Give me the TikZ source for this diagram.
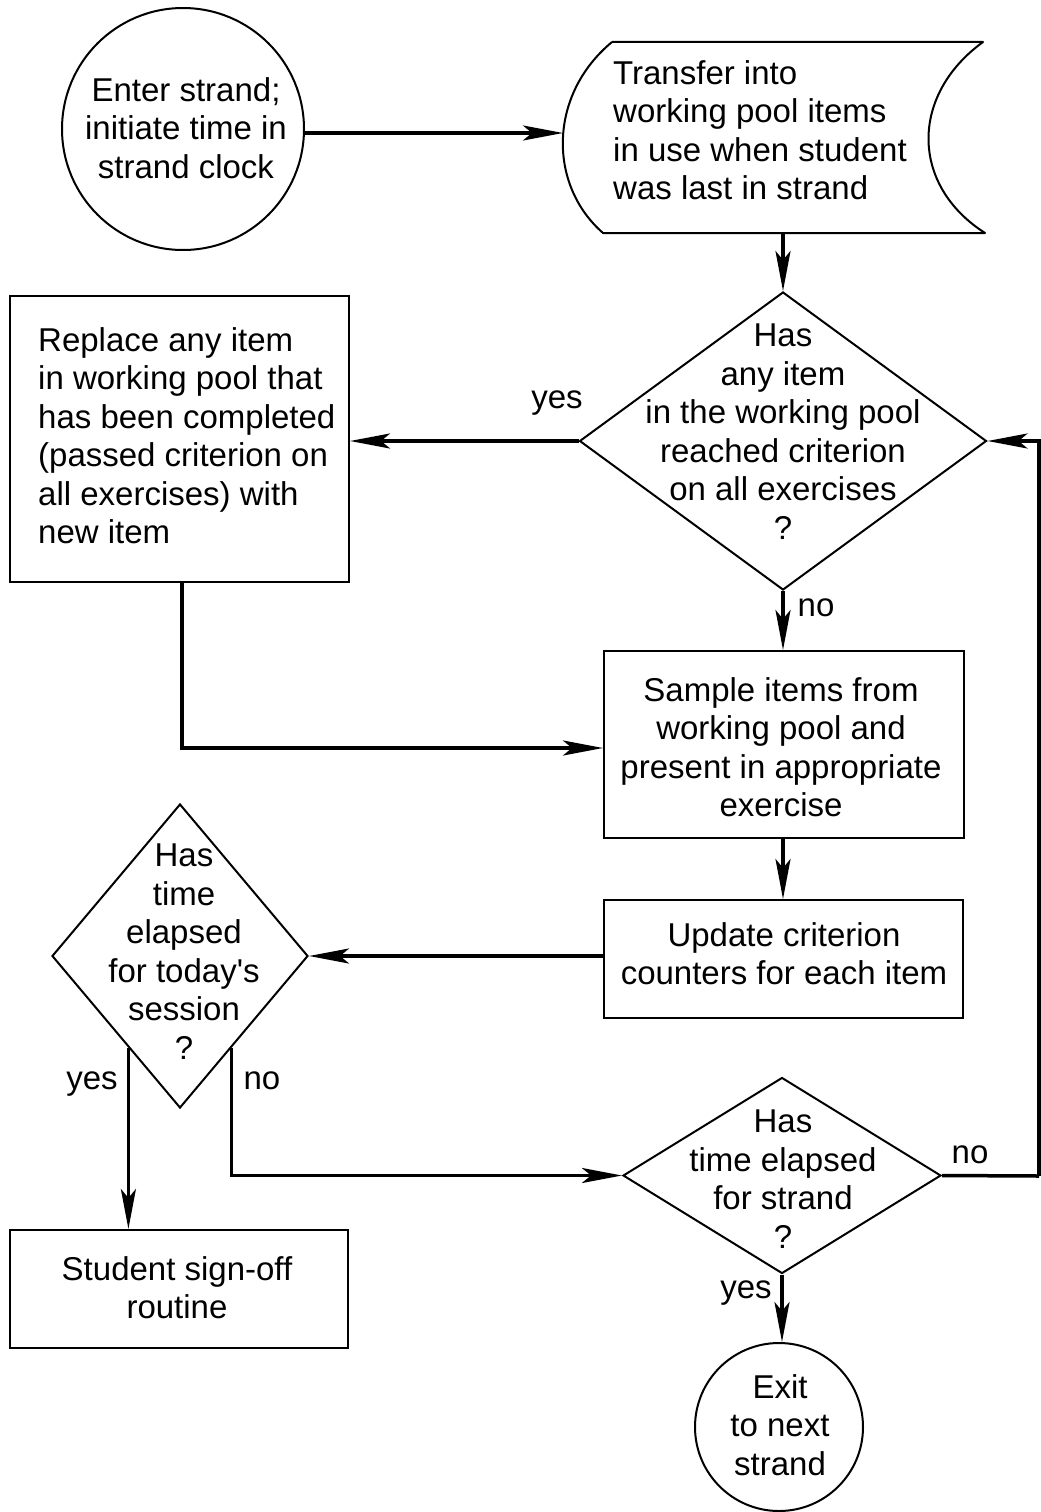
\documentclass[tikz,border=0pt]{standalone}
\usepackage{fontspec}
\setmainfont{Liberation Sans}
\usetikzlibrary{shapes.geometric,arrows.meta,calc}
\begin{document}
\begin{tikzpicture}[x=1pt,y=-1pt,
  shapeline/.style={draw=black,line width=2pt},
  txt/.style={inner sep=0pt,font=\fontsize{33}{38.5}\selectfont},
  lbl/.style={inner sep=0pt,anchor=base,font=\fontsize{33}{38.5}\selectfont},
  arr/.style={line width=3.5pt,-{Stealth[length=40pt,width=15pt,inset=9pt]}},
  conn/.style={line width=3.5pt},
  boxnode/.style={shapeline,rectangle,inner sep=0pt},
  dnode/.style={shapeline,diamond,inner sep=0pt},
  cnode/.style={shapeline,circle,inner sep=0pt}]
\useasboundingbox[fill=white] (0,0) rectangle (1041,1512);

% start circle
\node[cnode,minimum size=242pt] (start) at (183,129) {};
\node[txt,align=center,anchor=north] (starttxt) at (186,77) {Enter strand;\\initiate time in\\strand clock};

% stored data shape
\coordinate (sdL) at (563,133);
\coordinate (sdB) at (783,233);
\draw[shapeline,line join=round] (612,42) -- (983,42) .. controls (910,95) and (910,185) .. (985,233)
  -- (603,233) .. controls (548,185) and (548,95) .. (612,42);
\node[txt,align=left,anchor=north west] (sdtxt) at (613,60) {Transfer into\\working pool items\\in use when student\\was last in strand};

% decision 1
\node[dnode,minimum width=407pt,minimum height=298pt] (d1) at (783,441) {};
\node[txt,align=center,anchor=north] (d1txt) at (783,324) {Has\\any item\\in the working pool\\reached criterion\\on all exercises\\?};

% replace box
\node[boxnode,minimum width=339pt,minimum height=286pt] (replace) at (179.5,439) {};
\node[txt,align=left,anchor=north west] (reptxt) at (38,327) {Replace any item\\in working pool that\\has been completed\\(passed criterion on\\all exercises) with\\new item};

% sample box
\node[boxnode,minimum width=360pt,minimum height=187pt] (sample) at (784,744.5) {};
\node[txt,align=center,anchor=north] (samtxt) at (781,677) {Sample items from\\working pool and\\present in appropriate\\exercise};

% update box
\node[boxnode,minimum width=359pt,minimum height=118pt] (update) at (783.5,959) {};
\node[txt,align=center,anchor=north] (updtxt) at (784,922) {Update criterion\\counters for each item};

% decision 2
\node[dnode,minimum width=256pt,minimum height=304pt] (d2) at (180,956) {};
\node[txt,align=center,anchor=north] (d2txt) at (184,844) {Has\\time\\elapsed\\for today\textquotesingle s\\session\\?};

% student box
\node[boxnode,minimum width=338pt,minimum height=118pt] (student) at (179,1289) {};
\node[txt,align=center,anchor=north] (stutxt) at (177,1256) {Student sign-off\\routine};

% decision 3
\node[dnode,minimum width=318pt,minimum height=196pt] (d3) at (782,1175.5) {};
\node[txt,align=center,anchor=north] (d3txt) at (783,1110) {Has\\time elapsed\\for strand\\?};

% exit circle
\node[cnode,minimum size=168pt] (exit) at (779,1427) {};
\node[txt,align=center,anchor=north] (exittxt) at (780,1374) {Exit\\to next\\strand};

% labels
\node[lbl] (yes1) at (557,408) {yes};
\node[lbl] (no1) at (816,616) {no};
\node[lbl] (yes2) at (92,1089) {yes};
\node[lbl] (no2) at (262,1089) {no};
\node[lbl] (no3) at (970,1163) {no};
\node[lbl] (yes3) at (746,1298) {yes};

% connectors
\draw[arr] (start.east |- sdL) -- (sdL);
\draw[arr] (sdB) -- (d1.north);
\draw[arr] (d1.west) -- (d1.west -| replace.east);
\draw[arr] (d1.south) -- (d1.south |- sample.north);
\coordinate (repdown) at (182,582);
\draw[arr] (repdown) |- ($(sample.west)+(0,3.5)$);
\draw[arr] (sample.south -| d1.south) -- (d1.south |- update.north);
\draw[arr] (update.west |- d2.east) -- (d2.east);
\coordinate (y2start) at ($(d2.west)!0.6!(d2.south)$);
\coordinate (n2start) at ($(d2.east)!0.6!(d2.south)$);
\draw[arr] (y2start) -- (y2start |- student.north);
\draw[arr] (n2start) |- (d3.west);
\draw[arr] (d3.south) -- (d3.south |- exit.north);
\coordinate (rloop) at (1039,1176);
\draw[conn] (d3.east) -- (rloop);
\draw[arr] (rloop) |- (d1.east);
\end{tikzpicture}
\end{document}
